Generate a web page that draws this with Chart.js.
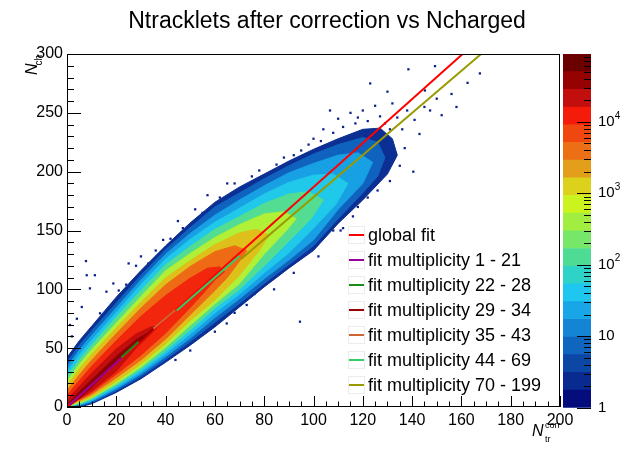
<!DOCTYPE html>
<html lang="en">
<head>
<meta charset="UTF-8">
<title>Ntracklets after correction vs Ncharged</title>
<script src="https://cdn.jsdelivr.net/npm/chart.js"></script>
<style>
  body { margin: 0; background: #fff; }
  #wrap { position: relative; width: 640px; height: 449px; }
  #wrap canvas { position: absolute; left: 0; top: 0; }
</style>
</head>
<body>
<div id="wrap">
  <canvas id="mainChart" width="640" height="449"></canvas>
  <canvas id="paletteChart" width="640" height="449"></canvas>
</div>
<script>
const chartTitle = 'Ntracklets after correction vs Ncharged';

// axis ranges / ticks
const xRange = [0, 200];
const yRange = [0, 300];
const xStep = 20;
const yStep = 50;

// density contours of the 2D histogram, outermost (>=1 entry) to innermost, as [Ntr, Nch] outlines
const level1 = [[0,0],[0,42],[5,56.4],[10,68.7],[20,93.4],[30,116],[40,137],[50,156.5],[60,174],[70,187],[80,198],[90,209],[100,219],[110,228],[120,236],[127,237],[132,228],[134,214],[130,198],[120,176],[110,156],[100,133],[90,118],[80,102],[70,85],[60,68],[50,52.5],[40,38],[30,24],[20,12.4],[10,2.7],[5,0]];
const level2 = [[0,0],[0,38],[5,52.4],[10,64.7],[20,88.4],[30,112],[40,133.8],[50,152.5],[60,170],[70,182],[80,194],[90,205],[100,215],[110,223],[120,229],[126,225],[129,212],[126,196],[120,182],[110,160],[100,137],[90,121],[80,105],[70,88],[60,72],[50,55.5],[40,40.3],[30,26],[20,13.9],[10,3.7],[5,0.9]];
const level3 = [[0,0],[0,34],[5,48.4],[10,60.7],[20,84.4],[30,108],[40,129.8],[50,147.5],[60,163],[70,176],[80,188],[90,199],[100,207],[110,214],[118,216],[124,208],[120,190],[110,168],[100,142],[90,125],[80,109],[70,92],[60,76],[50,58.5],[40,42.8],[30,28],[20,15.4],[10,4.7],[5,1.4]];
const level4 = [[0,0],[0,30],[5,44.4],[10,56.7],[20,80.4],[30,104],[40,125.8],[50,142.5],[60,157],[70,169],[80,181],[90,191],[100,197],[108,198],[114,190],[109,172],[100,152],[90,131],[80,114],[70,96],[60,80],[50,62],[40,45.3],[30,30],[20,16.9],[10,5.7],[5,1.9]];
const level5 = [[0,0],[0,26],[5,40.4],[10,52.7],[20,76.4],[30,99],[40,120.8],[50,136.5],[60,151],[70,162],[80,173],[90,181],[98,183],[104,176],[99,160],[90,141],[80,120],[70,100],[60,84],[50,65.5],[40,47.8],[30,32],[20,18.4],[10,6.7],[5,2.4]];
const level6 = [[0,0],[0,22],[5,36.4],[10,48.7],[20,71.4],[30,94],[40,115.8],[50,130.5],[60,144],[70,155],[80,164],[88,166],[93,160],[89,150],[80,130],[70,105],[60,87.7],[50,69.5],[40,50.8],[30,34],[20,19.9],[10,7.7],[5,3.4]];
const level7 = [[0,0],[0,18],[5,32.4],[10,44.7],[20,67.4],[30,89],[40,109.8],[50,124.5],[60,138],[70,148],[77,151],[82,146],[78,133],[70,112],[60,91],[50,73.5],[40,53.8],[30,36.6],[20,21.9],[10,8.7],[5,4.4]];
const level8 = [[0,0],[0,14],[5,27.4],[10,39.7],[20,62.4],[30,84],[40,103.8],[50,119.5],[60,132],[68,137],[73,133],[70,124],[65,110],[60,99],[50,78.5],[40,57.8],[30,40],[20,24.9],[10,10.7],[5,5.4]];
const level9 = [[0,0],[0,10],[5,22.4],[10,34.7],[20,56.4],[30,77],[40,94.8],[50,109.5],[57,118],[62,119],[64,115],[60,108],[55,96],[50,84.5],[40,62.8],[30,44],[20,27.9],[10,12.2],[5,6.4]];
const level10 = [[0,0],[0,6],[5,17.4],[10,28.7],[20,49.4],[28,62],[34,68],[37,69],[34,62],[28,50],[20,30.4],[10,13.7],[5,7.4]];
const level11 = [[1,0.5],[1,4],[5,13],[10,23],[20,43],[28,57],[32,62],[30,56],[22,42],[12,21],[5,7]];
const levelColors = ['#0b2f93','#0f62bd','#17a0e3','#20c8ea','#52dd92','#b0f036','#dfc01a','#ee6a15','#f2260c','#c20e0c','#8a0202'];

// isolated low-count bins outside the dense band
const sparseBins = [[1.2,69.7],[6,85],[8,112],[11.3,112],[7.7,124],[9.3,100.8],[13.4,79.6],[18.8,105],[39,142],[64.8,71],[72.9,86.7],[94.5,72.5],[2,60],[4,75],[16,98],[25,122],[30,128],[45,158],[52,168],[57,180],[65,190],[75,196],[85,206],[95,218],[100,228],[104,236],[106.7,252],[110,245],[112,238],[115,250],[117,241],[118,246],[120,252],[122,243],[123,275],[125,256],[127,247],[129,241],[130,268],[131,236],[132,258],[134,246],[136,236],[138.5,287],[138,252],[140.5,200],[141,244],[143,232],[145,255],[145.2,269],[147.3,252],[149.3,289.7],[150,262],[152,248],[156,266],[158,255],[162.5,275.5],[167.5,283.5],[126,184],[131,192],[135,205],[137,220],[128,200],[122,178],[116,162],[108,150],[112,152],
  [21,99],[24,104],[28,120],[33,122],[36,133],[42,143],[47,152],[55,165],[62,178],[68,190],[78,201],[88,212],[92,214],[98,223],[103,226],[108,233],[84,100],[92,114],[102,128],[111,150],[118,170],[60,64],[68,80],[76,96],[50,48],[44,40]];

// fit lines: endpoints [Ntr, Nch]
const fitLabels = ['global fit','fit multiplicity 1 - 21','fit multiplicity 22 - 28','fit multiplicity 29 - 34','fit multiplicity 35 - 43','fit multiplicity 44 - 69','fit multiplicity 70 - 199'];
const fitColors = ['#ff0000','#990099','#1a8c1a','#990000','#cc6633','#33cc66','#999900'];
const fitLines = [
  [[0,0],[160.5,300]],
  [[1,1.9],[22,41.5]],
  [[22,42],[29,55.5]],
  [[29,55],[35,66.5]],
  [[35,66.5],[44,82.5]],
  [[44.5,82],[70,128.3]],
  [[70.5,125.6],[168,300]]
];

// colour palette (log z): band edges and colours, bottom to top
const paletteEdges = [1, 1.768, 3.126, 5.525, 9.763, 17.26, 30.51, 53.93, 95.32, 168.5, 297.9, 526.6, 930.8, 1645, 2908, 5140, 9087, 16060, 28390, 50190, 88720];
const paletteColors = ['#050d7d','#092a8f','#0d47a6','#1065bf','#1485d5','#18a6e7','#1fc6f0','#2fd2c6','#4edc94','#77e76a','#a2ee40','#cbf41f','#dcd11b','#e39f19','#ec6e15','#f0460f','#f41b0a','#c20e0c','#960202','#6a0000'];
const paletteTickValues = [1, 10, 100, 1000, 10000];
const paletteTickBase = ['1', '10', '10', '10', '10'];
const paletteTickExp = ['', '', '2', '3', '4'];

const FONT = '"Liberation Sans", Arial, sans-serif';
Chart.defaults.font.family = FONT;
Chart.defaults.color = '#000';

const toXY = pts => pts.map(p => ({ x: p[0], y: p[1] }));

const datasets = [];
[level1, level2, level3, level4, level5, level6, level7, level8, level9, level10, level11].forEach((pts, i) => {
  datasets.push({
    type: 'line',
    data: toXY(pts),
    backgroundColor: levelColors[i],
    borderColor: levelColors[i],
    borderWidth: 1,
    pointRadius: 0,
    tension: 0,
    fill: 'shape',
    order: 30 - i
  });
});
datasets.push({
  type: 'scatter',
  data: toXY(sparseBins),
  pointStyle: 'rect',
  pointRadius: 1.6,
  backgroundColor: '#0b1f8a',
  borderWidth: 0,
  order: 40
});
fitLines.forEach((pts, i) => {
  datasets.push({
    type: 'line',
    label: fitLabels[i],
    legendRow: i,
    data: toXY(pts),
    borderColor: fitColors[i],
    borderWidth: 2,
    pointRadius: 0,
    fill: false,
    order: i === 0 ? 8 : i
  });
});

// ROOT-style title, frame, inward ticks, axis titles and legend
const rootDecor = {
  id: 'rootDecor',
  afterDatasetsDraw(chart) {
    const ctx = chart.ctx;
    const { left, right, top, bottom } = chart.chartArea;
    const xs = chart.scales.x, ys = chart.scales.y;
    ctx.save();
    ctx.strokeStyle = '#000';
    ctx.lineWidth = 1;
    ctx.beginPath();
    for (let v = xRange[0]; v <= xRange[1]; v += 5) {
      const px = Math.round(xs.getPixelForValue(v)) + 0.5;
      const len = v % xStep === 0 ? 11 : 5.5;
      ctx.moveTo(px, bottom);
      ctx.lineTo(px, bottom - len);
    }
    for (let v = yRange[0]; v <= yRange[1]; v += 10) {
      const py = Math.round(ys.getPixelForValue(v)) + 0.5;
      const len = v % yStep === 0 ? 14 : 7;
      ctx.moveTo(left, py);
      ctx.lineTo(left + len, py);
    }
    ctx.stroke();
    ctx.strokeRect(Math.round(left) + 0.5, Math.round(top) + 0.5, Math.round(right - left) - 1, Math.round(bottom - top) - 1);

    // title
    ctx.fillStyle = '#000';
    ctx.font = '23px ' + FONT;
    ctx.textAlign = 'center';
    ctx.textBaseline = 'middle';
    ctx.fillText(chartTitle, 327, 22);

    // legend
    chart.data.datasets.forEach(d => {
      if (d.legendRow === undefined) return;
      const y = 235 + 25 * d.legendRow;
      ctx.strokeStyle = '#ececec';
      ctx.lineWidth = 1;
      ctx.strokeRect(348.5, y - 8.5, 16, 17);
      ctx.strokeStyle = d.borderColor;
      ctx.lineWidth = 2;
      ctx.beginPath();
      ctx.moveTo(349, y);
      ctx.lineTo(364, y);
      ctx.stroke();
      ctx.fillStyle = '#000';
      ctx.font = '18px ' + FONT;
      ctx.textBaseline = 'middle';
      ctx.textAlign = 'left';
      ctx.fillText(d.label, 368, y + 1);
    });

    // x title: N_tr^corr
    ctx.fillStyle = '#000';
    ctx.textBaseline = 'alphabetic';
    ctx.textAlign = 'left';
    ctx.font = 'italic 16px ' + FONT;
    ctx.fillText('N', 532, 436);
    ctx.font = '9px ' + FONT;
    ctx.fillText('corr', 545, 428);
    ctx.fillText('tr', 545, 442);

    // y title: N_ch (rotated, aligned to top)
    ctx.save();
    ctx.translate(37, 55);
    ctx.rotate(-Math.PI / 2);
    ctx.textAlign = 'right';
    ctx.font = '10px ' + FONT;
    const wch = ctx.measureText('ch').width;
    ctx.fillText('ch', 0, 5);
    ctx.font = 'italic 16px ' + FONT;
    ctx.fillText('N', -wch + 2, 0);
    ctx.restore();
    ctx.restore();
  }
};

new Chart(document.getElementById('mainChart'), {
  type: 'scatter',
  data: { datasets: datasets },
  options: {
    responsive: false,
    animation: false,
    events: [],
    layout: { padding: { left: 0, right: 80, top: 54, bottom: 0 } },
    plugins: {
      legend: { display: false },
      tooltip: { enabled: false },
      title: { display: false }
    },
    scales: {
      x: {
        type: 'linear', min: xRange[0], max: xRange[1],
        grid: { display: false, drawTicks: false },
        border: { display: false },
        ticks: { stepSize: xStep, font: { size: 16 }, color: '#000', padding: 4, maxRotation: 0, autoSkip: false },
        afterFit: s => { s.height = 42; }
      },
      y: {
        type: 'linear', min: yRange[0], max: yRange[1],
        grid: { display: false, drawTicks: false },
        border: { display: false },
        ticks: { stepSize: yStep, font: { size: 16 }, color: '#000', padding: 4 },
        afterFit: s => { s.width = 67; }
      }
    }
  },
  plugins: [rootDecor]
});

// palette ticks and labels
const paletteAxis = {
  id: 'paletteAxis',
  afterDraw(chart) {
    const ctx = chart.ctx;
    const ys = chart.scales.y;
    const { right } = chart.chartArea;
    const zMax = paletteEdges[paletteEdges.length - 1];
    ctx.save();
    ctx.strokeStyle = '#000';
    ctx.lineWidth = 1;
    ctx.beginPath();
    for (let dec = 1; dec <= zMax; dec *= 10) {
      for (let m = 1; m <= 9; m++) {
        const v = m * dec;
        if (v > zMax) break;
        const py = Math.round(ys.getPixelForValue(v)) + 0.5;
        ctx.moveTo(right, py);
        ctx.lineTo(right - (m === 1 ? 14 : 7), py);
      }
    }
    ctx.stroke();
    ctx.fillStyle = '#000';
    ctx.textAlign = 'left';
    ctx.textBaseline = 'middle';
    paletteTickValues.forEach((v, i) => {
      const py = ys.getPixelForValue(v);
      ctx.font = '15px ' + FONT;
      ctx.fillText(paletteTickBase[i], right + 7, py);
      if (paletteTickExp[i]) {
        const w = ctx.measureText(paletteTickBase[i]).width;
        ctx.font = '10px ' + FONT;
        ctx.fillText(paletteTickExp[i], right + 7 + w, py - 6);
      }
    });
    ctx.restore();
  }
};

new Chart(document.getElementById('paletteChart'), {
  type: 'bar',
  data: {
    labels: ['z'],
    datasets: paletteColors.map((c, i) => ({
      data: [[paletteEdges[i], paletteEdges[i + 1]]],
      backgroundColor: c,
      borderWidth: 0,
      barPercentage: 1,
      categoryPercentage: 1,
      grouped: false
    }))
  },
  options: {
    responsive: false,
    animation: false,
    events: [],
    layout: { padding: { left: 563, right: 0, top: 54, bottom: 41.3 } },
    plugins: { legend: { display: false }, tooltip: { enabled: false }, title: { display: false } },
    scales: {
      x: { display: false },
      y: {
        type: 'logarithmic', position: 'right',
        min: paletteEdges[0], max: paletteEdges[paletteEdges.length - 1],
        grid: { display: false, drawTicks: false },
        border: { display: false },
        ticks: { display: false },
        afterFit: s => { s.width = 49; }
      }
    }
  },
  plugins: [paletteAxis]
});
</script>
</body>
</html>
